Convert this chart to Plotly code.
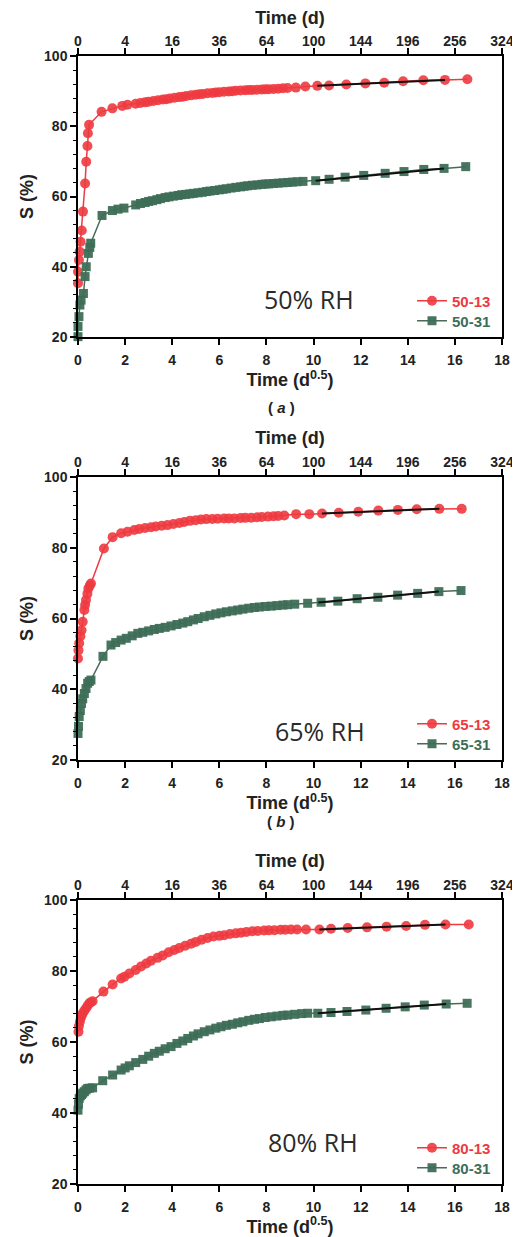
import plotly.graph_objects as go

# ---------------- data (x in d^0.5, S in %) ----------------
a13_x = [0.0, 0.0, 0.04, 0.07, 0.11, 0.16, 0.21, 0.30, 0.35, 0.40, 0.42, 0.47,
         1.0, 1.46, 1.88, 2.1, 2.45, 2.65, 2.85, 3.0, 3.2, 3.4, 3.6, 3.75, 3.9, 4.1, 4.3, 4.45, 4.6, 4.8,
         5.0, 5.15, 5.3, 5.5, 5.7, 5.85, 6.0, 6.2, 6.4, 6.55, 6.7, 6.9, 7.1, 7.25, 7.4, 7.6, 7.8, 7.95,
         8.1, 8.3, 8.5, 8.7, 8.9, 9.25, 9.65, 10.16, 10.66, 11.39, 12.2, 13.0, 13.8, 14.66, 15.58, 16.53]
a13_y = [35.3, 38.6, 41.9, 44.3, 47.1, 50.3, 55.7, 63.7, 69.9, 74.4, 78.0, 80.4,
         84.1, 85.1, 85.8, 86.1, 86.4, 86.6, 86.8, 87.0, 87.2, 87.4, 87.6, 87.7, 87.9, 88.1, 88.3, 88.4, 88.6, 88.8,
         89.0, 89.1, 89.2, 89.4, 89.5, 89.6, 89.7, 89.8, 89.9, 90.0, 90.1, 90.2, 90.25, 90.3, 90.35, 90.4, 90.45, 90.5,
         90.55, 90.6, 90.7, 90.8, 90.9, 91.0, 91.3, 91.5, 91.6, 91.9, 92.2, 92.4, 92.8, 93.1, 93.2, 93.4]

a31_x = [0.0, 0.0, 0.04, 0.08, 0.13, 0.23, 0.30, 0.35, 0.44, 0.50, 0.54,
         1.02, 1.46, 1.7, 1.95, 2.45, 2.65, 2.85, 3.0, 3.16, 3.35, 3.5, 3.7, 3.86, 4.05, 4.25, 4.4, 4.57, 4.75,
         4.9, 5.1, 5.28, 5.45, 5.6, 5.8, 6.0, 6.15, 6.3, 6.5, 6.7, 6.9, 7.05, 7.2, 7.4, 7.6, 7.8, 7.95,
         8.1, 8.3, 8.5, 8.7, 8.9, 9.1, 9.3, 9.55, 10.09, 10.66, 11.34, 12.13, 13.04, 13.84, 14.68, 15.54, 16.46]
a31_y = [20.1, 23.0, 25.8, 29.1, 30.5, 32.4, 37.2, 40.0, 43.8, 45.5, 46.7,
         54.6, 56.0, 56.4, 56.7, 57.6, 58.0, 58.3, 58.6, 58.8, 59.1, 59.4, 59.7, 59.9, 60.1, 60.3, 60.5, 60.6, 60.75,
         60.9, 61.05, 61.2, 61.4, 61.55, 61.7, 61.9, 62.05, 62.2, 62.4, 62.6, 62.75, 62.9, 63.05, 63.2, 63.3, 63.45, 63.55,
         63.6, 63.7, 63.8, 63.9, 64.0, 64.1, 64.2, 64.3, 64.5, 64.9, 65.5, 66.0, 66.6, 67.1, 67.7, 68.0, 68.5]

b13_x = [0.0, 0.02, 0.05, 0.1, 0.15, 0.2, 0.27, 0.3, 0.34, 0.4, 0.44, 0.5, 0.55,
         1.1, 1.47, 1.83, 2.1, 2.39, 2.6, 2.85, 3.1, 3.3, 3.55, 3.8, 4.05, 4.3, 4.51, 4.75, 5.0, 5.22, 5.45,
         5.7, 5.93, 6.2, 6.4, 6.64, 6.9, 7.1, 7.35, 7.6, 7.8, 8.06, 8.3, 8.5, 8.76, 9.26, 9.82,
         10.36, 11.07, 11.9, 12.75, 13.58, 14.38, 15.34, 16.29]
b13_y = [48.7, 51.0, 53.0, 55.0, 56.7, 59.1, 62.4, 63.8, 65.2, 67.0, 68.5, 69.3, 69.9,
         79.8, 83.0, 84.1, 84.5, 85.0, 85.3, 85.6, 85.8, 86.0, 86.2, 86.4, 86.7, 87.0, 87.3, 87.6, 87.8, 88.0, 88.1,
         88.15, 88.2, 88.25, 88.3, 88.3, 88.4, 88.45, 88.5, 88.6, 88.7, 88.8, 88.9, 89.0, 89.1, 89.5, 89.5,
         89.7, 89.9, 90.2, 90.5, 90.7, 90.9, 91.0, 91.0]

b31_x = [0.0, 0.02, 0.05, 0.1, 0.15, 0.2, 0.27, 0.34, 0.41, 0.48, 0.55,
         1.06, 1.4, 1.6, 1.83, 2.05, 2.3, 2.54, 2.75, 3.0, 3.24, 3.45, 3.7, 3.95, 4.2, 4.45, 4.66, 4.9, 5.1,
         5.36, 5.6, 5.85, 6.07, 6.3, 6.55, 6.78, 7.0, 7.25, 7.49, 7.7, 7.95, 8.2, 8.45, 8.7, 8.9, 9.2, 9.75,
         10.32, 11.03, 11.85, 12.73, 13.57, 14.42, 15.32, 16.26]
b31_y = [27.5, 29.5, 32.3, 34.0, 36.0, 37.3, 38.8, 40.2, 41.7, 42.2, 42.6,
         49.3, 52.5, 53.2, 53.9, 54.4, 55.1, 55.8, 56.1, 56.5, 56.9, 57.2, 57.5, 57.9, 58.3, 58.7, 59.1, 59.6, 60.0,
         60.5, 60.9, 61.3, 61.6, 61.9, 62.15, 62.4, 62.65, 62.9, 63.1, 63.25, 63.4, 63.5, 63.65, 63.8, 63.9, 64.05, 64.3,
         64.6, 64.9, 65.6, 66.0, 66.6, 67.1, 67.6, 67.9]

c13_x = [0.02, 0.04, 0.08, 0.12, 0.16, 0.2, 0.27, 0.34, 0.41, 0.48, 0.55, 0.62,
         1.08, 1.47, 1.83, 1.97, 2.18, 2.45, 2.68, 2.9, 3.1, 3.38, 3.6, 3.85, 4.09, 4.3, 4.55, 4.8, 5.0, 5.25,
         5.5, 5.75, 6.0, 6.21, 6.45, 6.7, 6.92, 7.15, 7.4, 7.63, 7.9, 8.1, 8.34, 8.6, 8.8, 9.04, 9.3, 9.68,
         10.25, 10.74, 11.45, 12.27, 13.1, 13.93, 14.73, 15.6, 16.59]
c13_y = [62.9, 64.5, 65.7, 66.8, 67.5, 68.1, 68.8, 69.5, 70.2, 70.9, 71.2, 71.5,
         74.2, 76.2, 77.9, 78.4, 79.3, 80.3, 81.3, 82.1, 82.9, 83.7, 84.4, 85.3, 85.9, 86.5, 87.1, 87.7, 88.2, 88.8,
         89.3, 89.7, 89.9, 90.1, 90.4, 90.6, 90.8, 91.0, 91.2, 91.3, 91.4, 91.45, 91.5, 91.6, 91.65, 91.7, 91.7, 91.7,
         91.7, 91.9, 92.1, 92.3, 92.5, 92.7, 93.0, 93.1, 93.1]

c31_x = [0.0, 0.02, 0.05, 0.1, 0.15, 0.2, 0.27, 0.34, 0.41, 0.5, 0.62,
         1.05, 1.47, 1.83, 2.0, 2.18, 2.45, 2.75, 3.0, 3.24, 3.45, 3.7, 3.95, 4.2, 4.45, 4.66, 4.9, 5.1, 5.36,
         5.6, 5.85, 6.07, 6.3, 6.55, 6.78, 7.0, 7.25, 7.49, 7.7, 7.95, 8.2, 8.45, 8.7, 8.9, 9.2, 9.5, 9.75,
         10.18, 10.74, 11.42, 12.22, 13.08, 13.89, 14.7, 15.63, 16.52]
c31_y = [40.8, 42.5, 44.1, 44.8, 45.2, 45.6, 46.0, 46.5, 46.9, 47.0, 47.1,
         49.1, 50.7, 52.1, 52.7, 53.3, 54.2, 55.1, 56.0, 56.8, 57.4, 58.1, 58.7, 59.6, 60.3, 61.0, 61.7, 62.3, 62.9,
         63.4, 63.9, 64.3, 64.7, 65.0, 65.4, 65.7, 66.1, 66.4, 66.6, 66.9, 67.1, 67.3, 67.5, 67.6, 67.8, 68.0, 68.1,
         68.1, 68.3, 68.6, 69.0, 69.5, 69.9, 70.4, 70.7, 70.9]

# linear fit segments (black lines)
fit_a13_x, fit_a13_y = [10.16, 15.58], [91.5, 93.2]
fit_a31_x, fit_a31_y = [10.09, 15.54], [64.5, 68.0]
fit_b13_x, fit_b13_y = [10.36, 15.34], [89.7, 91.0]
fit_b31_x, fit_b31_y = [10.2, 15.32], [64.5, 67.6]
fit_c13_x, fit_c13_y = [10.25, 15.6], [91.7, 93.1]
fit_c31_x, fit_c31_y = [10.18, 15.63], [68.1, 70.7]

names13 = ["50-13", "65-13", "80-13"]
names31 = ["50-31", "65-31", "80-31"]
rh_labels = ["50% RH", "65% RH", "80% RH"]
panel_labels = ["( <i>a</i> )", "( <i>b</i> )", None]

x_ticks = [0, 2, 4, 6, 8, 10, 12, 14, 16, 18]
top_tick_text = ["0", "4", "16", "36", "64", "100", "144", "196", "256", "324"]
y_ticks = [20, 40, 60, 80, 100]

# ---------------- layout helpers ----------------
# the page body has an 8 px margin: the figure starts at (8, 8) in the window
OFF = 8
W, H = 520 - OFF, 1237 - OFF
ML = 78 - OFF
MR = W - (502 - OFF)
MT = 56 - OFF
MB = H - (1184 - OFF)
PH = H - MT - MB
PW = W - ML - MR

def py(pix):  # window pixel y -> paper y
    return 1 - (pix - OFF - MT) / PH

def px(pix):  # window pixel x -> paper x
    return (pix - OFF - ML) / PW

panels = [(56, 337), (477, 760), (900, 1184)]

RED = "#EE3A40"
GREEN = "#3E6E57"
GREEN_LINE = "#4A6B5A"
FONT = "Liberation Sans, Arial, sans-serif"
TXT = "#222222"

fig = go.Figure()

data13 = [(a13_x, a13_y), (b13_x, b13_y), (c13_x, c13_y)]
data31 = [(a31_x, a31_y), (b31_x, b31_y), (c31_x, c31_y)]
fits13 = [(fit_a13_x, fit_a13_y), (fit_b13_x, fit_b13_y), (fit_c13_x, fit_c13_y)]
fits31 = [(fit_a31_x, fit_a31_y), (fit_b31_x, fit_b31_y), (fit_c31_x, fit_c31_y)]

layout = {}
annotations = []
for i in range(3):
    xa = "x" if i == 0 else f"x{i+1}"
    ya = "y" if i == 0 else f"y{i+1}"
    xt = f"x{i+4}"
    leg_r = "legend" if i == 0 else f"legend{2*i+1}"
    leg_g = f"legend{2*i+2}"
    top, bot = panels[i]

    fig.add_trace(go.Scatter(
        x=data13[i][0], y=data13[i][1], mode="lines+markers",
        name=f"<span style='color:{RED}'>{names13[i]}</span>",
        line=dict(color=RED, width=1.5),
        marker=dict(symbol="circle", size=10, color=RED, opacity=0.9),
        xaxis=xa, yaxis=ya, legend=leg_r, cliponaxis=False))
    fig.add_trace(go.Scatter(
        x=data31[i][0], y=data31[i][1], mode="lines+markers",
        name=f"<span style='color:{GREEN}'>{names31[i]}</span>",
        line=dict(color=GREEN_LINE, width=1.5),
        marker=dict(symbol="square", size=9, color=GREEN, opacity=0.95),
        xaxis=xa, yaxis=ya, legend=leg_g, cliponaxis=False))
    for fx, fy in (fits13[i], fits31[i]):
        fig.add_trace(go.Scatter(
            x=fx, y=fy, mode="lines", line=dict(color="#111111", width=2),
            showlegend=False, xaxis=xa, yaxis=ya, hoverinfo="skip"))
    # invisible trace so the top (days) axis is drawn
    fig.add_trace(go.Scatter(
        x=fits13[i][0], y=fits13[i][1], mode="lines", line=dict(width=0),
        opacity=0, showlegend=False, xaxis=xt, yaxis=ya, hoverinfo="skip"))

    dom = [py(bot), py(top)]
    axkey = "xaxis" if i == 0 else f"xaxis{i+1}"
    aykey = "yaxis" if i == 0 else f"yaxis{i+1}"
    topkey = f"xaxis{i+4}"

    layout[axkey] = dict(
        domain=[0, 1], anchor=ya, range=[0, 18], tickmode="array", tickvals=x_ticks,
        ticks="outside", ticklen=6, tickwidth=1.5, tickcolor="black", automargin=False,
        showline=True, linecolor="black", linewidth=1.5, showgrid=False, zeroline=False,
        tickfont=dict(family=FONT, size=14, color=TXT, weight="bold"),
        ticklabelstandoff=3,
        title=dict(text="Time (d<sup>0.5</sup>)", standoff=2,
                   font=dict(family=FONT, size=18, color=TXT, weight="bold")))
    layout[topkey] = dict(
        overlaying=xa, side="top", anchor=ya, range=[0, 18], tickmode="array",
        tickvals=x_ticks, ticktext=top_tick_text, automargin=False,
        ticks="outside", ticklen=6, tickwidth=1.5, tickcolor="black",
        showline=True, linecolor="black", linewidth=1.5, showgrid=False, zeroline=False,
        tickfont=dict(family=FONT, size=14, color=TXT, weight="bold"),
        ticklabelstandoff=-3,
        title=dict(text="Time (d)", standoff=4,
                   font=dict(family=FONT, size=18, color=TXT, weight="bold")))
    layout[aykey] = dict(
        domain=dom, anchor=xa, range=[20, 100], tickmode="array", tickvals=y_ticks,
        ticks="outside", ticklen=6, tickwidth=1.5, tickcolor="black", automargin=False,
        minor=dict(dtick=4, ticks="outside", ticklen=3, tickwidth=1, tickcolor="black"),
        showline=True, linecolor="black", linewidth=1.5, mirror=True,
        showgrid=False, zeroline=False,
        tickfont=dict(family=FONT, size=14, color=TXT, weight="bold"),
        title=dict(text="S (%)", standoff=6,
                   font=dict(family=FONT, size=18, color=TXT, weight="bold")))

    row_r = bot - 36   # centre of red legend row (window px)
    row_g = bot - 16   # centre of green legend row
    for lk, rc in ((leg_r, row_r), (leg_g, row_g)):
        layout[lk] = dict(
            x=px(412), y=py(rc), xanchor="left", yanchor="middle",
            bgcolor="rgba(0,0,0,0)", borderwidth=0, tracegroupgap=0,
            itemwidth=30,
            font=dict(family=FONT, size=15, weight="bold"))

    rh_y = [299, 731, 1142][i]
    rh_x = [309, 320, 313][i]
    annotations.append(dict(
        text=rh_labels[i], x=px(rh_x), y=py(rh_y), xref="paper", yref="paper",
        showarrow=False, xanchor="center", yanchor="middle",
        font=dict(family="Open Sans, sans-serif", size=25, color="#2a2a2a")))
    if panel_labels[i]:
        lab_y = [407, 821][i]
        annotations.append(dict(
            text=panel_labels[i], x=px(281), y=py(lab_y), xref="paper", yref="paper",
            showarrow=False, xanchor="center", yanchor="middle",
            font=dict(family=FONT, size=15, color=TXT, weight="bold")))

fig.update_layout(**layout)
fig.update_layout(
    width=W, height=H,
    margin=dict(l=ML, r=MR, t=MT, b=MB, autoexpand=False),
    paper_bgcolor="white", plot_bgcolor="white",
    annotations=annotations,
    showlegend=True,
)

fig.write_html("out.html")
